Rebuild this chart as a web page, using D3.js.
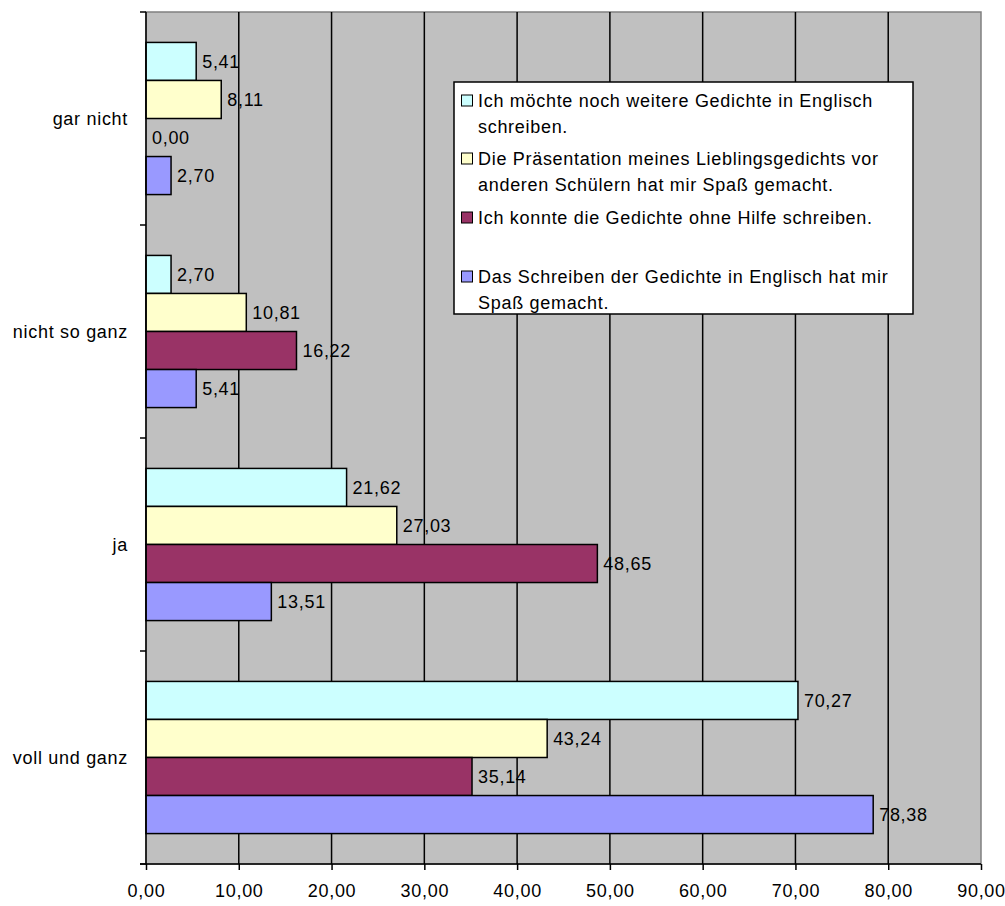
<!DOCTYPE html>
<html>
<head>
<meta charset="utf-8">
<script src="https://cdn.jsdelivr.net/npm/d3@7"></script>
<style>
body { margin: 0; background: #fff; }
text { font-family: "Liberation Sans", Arial, sans-serif; font-size: 18px; fill: #000; letter-spacing: 0.7px; }
</style>
</head>
<body>
<script>
var width = 1005;
var height = 906;

// categories top to bottom
var categories = ["gar nicht", "nicht so ganz", "ja", "voll und ganz"];

// series names (legend order)
var series = [
	["Ich möchte noch weitere Gedichte in Englisch", "schreiben."],
	["Die Präsentation meines Lieblingsgedichts vor", "anderen Schülern hat mir Spaß gemacht."],
	["Ich konnte die Gedichte ohne Hilfe schreiben."],
	["Das Schreiben der Gedichte in Englisch hat mir", "Spaß gemacht."]
];
var colors = ["#ccffff", "#ffffcc", "#993366", "#9999ff"];

// values per series, in category order
var seriesMoechte = [5.41, 2.70, 21.62, 70.27];
var seriesPraesentation = [8.11, 10.81, 27.03, 43.24];
var seriesOhneHilfe = [0.00, 16.22, 48.65, 35.14];
var seriesSchreiben = [2.70, 5.41, 13.51, 78.38];
var values = [seriesMoechte, seriesPraesentation, seriesOhneHilfe, seriesSchreiben];

var xTicks = [0, 10, 20, 30, 40, 50, 60, 70, 80, 90];

var margin = {left: 146, right: 24, top: 12, bottom: 42};

var fmt = function(v) { return d3.format(".2f")(v).replace(".", ","); };

function drawChart() {
	var svg = d3.select("body")
		.append("svg")
		.attr("width", width)
		.attr("height", height);

	var x = d3.scaleLinear()
		.domain([0, 90])
		.range([margin.left, width - margin.right]);

	var y = d3.scaleBand()
		.domain(categories)
		.range([margin.top, height - margin.bottom])
		.padding(0);

	var ySeries = d3.scaleBand()
		.domain(d3.range(values.length))
		.range([0, y.bandwidth()])
		.paddingInner(0)
		.paddingOuter(0.8);

	// plot background
	svg.append("rect")
		.attr("x", x(0))
		.attr("y", margin.top)
		.attr("width", x(90) - x(0))
		.attr("height", height - margin.bottom - margin.top)
		.style("fill", "#c0c0c0")
		.style("stroke", "#808080")
		.style("stroke-width", 1.5);

	// gridlines
	svg.append("g")
		.selectAll("line")
		.data(xTicks.filter(function(d) { return d > 0 && d < 90; }))
		.enter()
		.append("line")
		.attr("x1", function(d) { return x(d); })
		.attr("x2", function(d) { return x(d); })
		.attr("y1", margin.top)
		.attr("y2", height - margin.bottom)
		.style("stroke", "#000")
		.style("stroke-width", 1.5);

	// bars
	var rows = [];
	values.forEach(function(vals, s) {
		vals.forEach(function(v, c) {
			rows.push({s: s, c: categories[c], v: v});
		});
	});

	var bars = svg.append("g");
	bars.selectAll("rect")
		.data(rows.filter(function(d) { return d.v > 0; }))
		.enter()
		.append("rect")
		.attr("x", x(0))
		.attr("y", function(d) { return y(d.c) + ySeries(d.s); })
		.attr("width", function(d) { return x(d.v) - x(0); })
		.attr("height", ySeries.bandwidth())
		.style("fill", function(d) { return colors[d.s]; })
		.style("stroke", "#000")
		.style("stroke-width", 1.5);

	bars.selectAll("text")
		.data(rows)
		.enter()
		.append("text")
		.attr("x", function(d) { return x(d.v) + 6; })
		.attr("y", function(d) { return y(d.c) + ySeries(d.s) + ySeries.bandwidth() / 2; })
		.attr("dy", "0.35em")
		.text(function(d) { return fmt(d.v); });

	// x axis
	var xAxis = d3.axisBottom(x)
		.tickValues(xTicks)
		.tickSize(6)
		.tickPadding(14)
		.tickFormat(fmt);
	var gx = svg.append("g")
		.attr("transform", "translate(0," + (height - margin.bottom) + ")")
		.call(xAxis);
	gx.select(".domain").remove();
	gx.append("line")
		.attr("x1", x(0) - 6)
		.attr("x2", x(90))
		.style("stroke", "#000")
		.style("stroke-width", 1.5);
	gx.selectAll(".tick line").style("stroke-width", 1.5);
	gx.selectAll("text")
		.style("font-size", "18px")
		.style("font-family", "'Liberation Sans', Arial, sans-serif");

	// y axis: ticks at category boundaries
	var gy = svg.append("g");
	gy.append("line")
		.attr("x1", x(0)).attr("x2", x(0))
		.attr("y1", margin.top).attr("y2", height - margin.bottom)
		.style("stroke", "#000")
		.style("stroke-width", 1.5);
	var bounds = categories.map(function(c) { return y(c); }).concat([y.range()[1]]);
	gy.selectAll(".ytick")
		.data(bounds)
		.enter()
		.append("line")
		.attr("x1", x(0) - 6).attr("x2", x(0))
		.attr("y1", function(d) { return d; })
		.attr("y2", function(d) { return d; })
		.style("stroke", "#000")
		.style("stroke-width", 1.5);
	gy.selectAll("text")
		.data(categories)
		.enter()
		.append("text")
		.attr("x", x(0) - 18)
		.attr("y", function(d) { return y(d) + y.bandwidth() / 2; })
		.attr("dy", "0.35em")
		.attr("text-anchor", "end")
		.text(function(d) { return d; });

	// legend
	var legend = svg.append("g");
	legend.append("rect")
		.attr("x", 454).attr("y", 82)
		.attr("width", 459).attr("height", 232)
		.style("fill", "#fff")
		.style("stroke", "#000")
		.style("stroke-width", 1.5);
	var baselines = [107, 165, 224, 283];
	var items = legend.selectAll(".item")
		.data(series)
		.enter()
		.append("g")
		.attr("transform", function(d, i) { return "translate(0," + baselines[i] + ")"; });
	items.append("rect")
		.attr("x", 461.5).attr("y", -12)
		.attr("width", 11).attr("height", 11)
		.style("fill", function(d, i) { return colors[i]; })
		.style("stroke", "#000")
		.style("stroke-width", 1);
	items.selectAll("text")
		.data(function(d) { return d; })
		.enter()
		.append("text")
		.attr("x", 478)
		.attr("y", function(d, j) { return j * 26; })
		.text(function(d) { return d; });
}

drawChart();
</script>
</body>
</html>
